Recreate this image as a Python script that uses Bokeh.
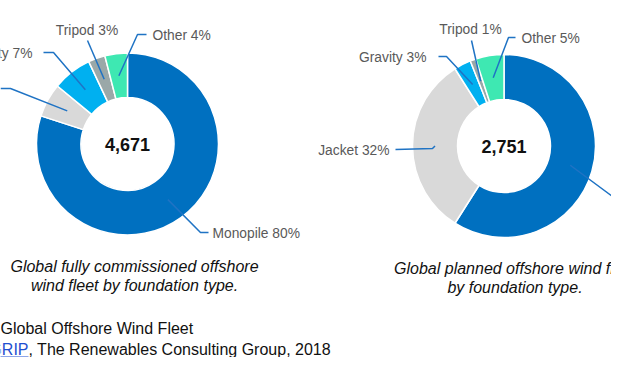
import math
from bokeh.plotting import figure
from bokeh.models import ColumnDataSource, Range1d
from bokeh.core.properties import value
from bokeh.embed import file_html
from bokeh.resources import INLINE

# ---------------- data ----------------
categories = ["Monopile", "Jacket", "Gravity", "Tripod", "Other"]
share_commissioned = [80, 6, 7, 3, 4]
share_planned = [59, 32, 3, 1, 5]
total_commissioned = 4671
total_planned = 2751
caption_commissioned = ["Global fully commissioned offshore", "wind fleet by foundation type."]
caption_planned = ["Global planned offshore wind fleet", "by foundation type."]
source_line1 = "Global Offshore Wind Fleet"
source_link = "GRIP"
source_rest = ", The Renewables Consulting Group, 2018"

# ---------------- style / layout ----------------
colors = ["#0070C0", "#D9D9D9", "#00B0F0", "#9AA8A8", "#3EE8B2"]
LEADER = "#1F73C4"
LABEL = "#595959"
FONT = value("Liberation Sans")
W, H = 611, 357  # figure size; data y = H - screen y


def Y(v):
    return H - v


p = figure(width=W, height=H, output_backend="svg", toolbar_location=None,
           x_range=Range1d(0, W), y_range=Range1d(0, H),
           min_border=0, min_border_left=0, min_border_right=0,
           min_border_top=0, min_border_bottom=0)
p.axis.visible = False
p.xgrid.visible = False
p.ygrid.visible = False
p.outline_line_color = None
p.background_fill_color = "white"
p.border_fill_color = "white"

# donut geometry (screen pixel coordinates) and label layout
donuts = [
    dict(values=share_commissioned, total=total_commissioned, cx=127, cy=143.5,
         ro=91, ri=46.5,
         # per category: elbow point, end point, text anchor, align
         labels=[((200, 232), (208, 232), (212, 233), "left"),
                 ((10, 88), (0, 88), (-3, 88), "right"),
                 ((53, 52), (43, 52), (32, 53), "right"),
                 ((87, 40), (87, 40), (86.5, 30), "center"),
                 ((137, 34), (146, 34), (152, 35), "left")],
         caption=caption_commissioned, cap_x=134, cap_y=[266, 285]),
    dict(values=share_planned, total=total_planned, cx=503.5, cy=145.5,
         ro=91.5, ri=46.5,
         labels=[((612, 196), (620, 196), (624, 197), "left"),
                 ((432, 148), (395, 149), (389, 150), "right"),
                 ((446, 56), (438, 56), (426, 57), "right"),
                 ((471, 40), (471, 40), (470, 29), "center"),
                 ((508, 37), (515, 37), (521, 38), "left")],
         caption=caption_planned, cap_x=514.5, cap_y=[268, 287]),
]

for d in donuts:
    vals = d["values"]
    tot = float(sum(vals))
    starts, ends, mids = [], [], []
    cum = 0.0
    for v in vals:
        a0 = cum / tot * 360.0
        cum += v
        a1 = cum / tot * 360.0
        starts.append(math.radians(90 - a0))
        ends.append(math.radians(90 - a1))
        mids.append((a0 + a1) / 2.0)
    src = ColumnDataSource(dict(
        x=[d["cx"]] * len(vals), y=[Y(d["cy"])] * len(vals),
        start=starts, end=ends, color=colors, cat=categories, val=vals))
    p.annular_wedge(x="x", y="y", inner_radius=d["ri"], outer_radius=d["ro"],
                    start_angle="start", end_angle="end", direction="clock",
                    fill_color="color", line_color="white", line_width=1.5, source=src)

    # leader lines from mid-angle of each wedge
    xs, ys = [], []
    tx, ty, tt, ta = [], [], [], []
    rmid = (d["ro"] + d["ri"]) / 2.0
    for i, (cat, v) in enumerate(zip(categories, vals)):
        m = math.radians(mids[i])
        px = d["cx"] + rmid * math.sin(m)
        py = d["cy"] - rmid * math.cos(m)
        (ex, ey), (hx, hy), (lx, ly), al = d["labels"][i]
        xs.append([px, ex, hx])
        ys.append([Y(py), Y(ey), Y(hy)])
        tx.append(lx); ty.append(Y(ly)); tt.append(f"{cat} {v}%"); ta.append(al)
    p.multi_line(xs=xs, ys=ys, line_color=LEADER, line_width=1.5)
    for x_, y_, t_, a_ in zip(tx, ty, tt, ta):
        p.text(x=[x_], y=[y_], text=[t_], text_font=FONT, text_font_size="13.8px",
               text_color=LABEL, text_align=a_, text_baseline="middle")

    # centre total
    p.text(x=[d["cx"]], y=[Y(d["cy"])], text=[f"{d['total']:,}"], text_font=FONT,
           text_font_size="18px", text_font_style="bold", text_color="#111111",
           text_align="center", text_baseline="middle")

    # caption
    p.text(x=[d["cap_x"]] * 2, y=[Y(c) for c in d["cap_y"]], text=d["caption"],
           text_font=FONT, text_font_size="16px", text_font_style="italic",
           text_color="#111111", text_align="center", text_baseline="middle")

# source lines
p.text(x=[0], y=[Y(328)], text=[source_line1], text_font=FONT, text_font_size="16px",
       text_color="#111111", text_align="left", text_baseline="middle")
p.text(x=[28], y=[Y(349)], text=[source_link], text_font=FONT, text_font_size="16px",
       text_color="#1F4FD1", text_align="right", text_baseline="middle")
p.segment(x0=[-12], y0=[Y(356.5)], x1=[28], y1=[Y(356.5)], line_color="#1F4FD1", line_width=1)
p.text(x=[28], y=[Y(349)], text=[source_rest], text_font=FONT, text_font_size="16px",
       text_color="#111111", text_align="left", text_baseline="middle")

open("out.html", "w").write(file_html(p, INLINE))
